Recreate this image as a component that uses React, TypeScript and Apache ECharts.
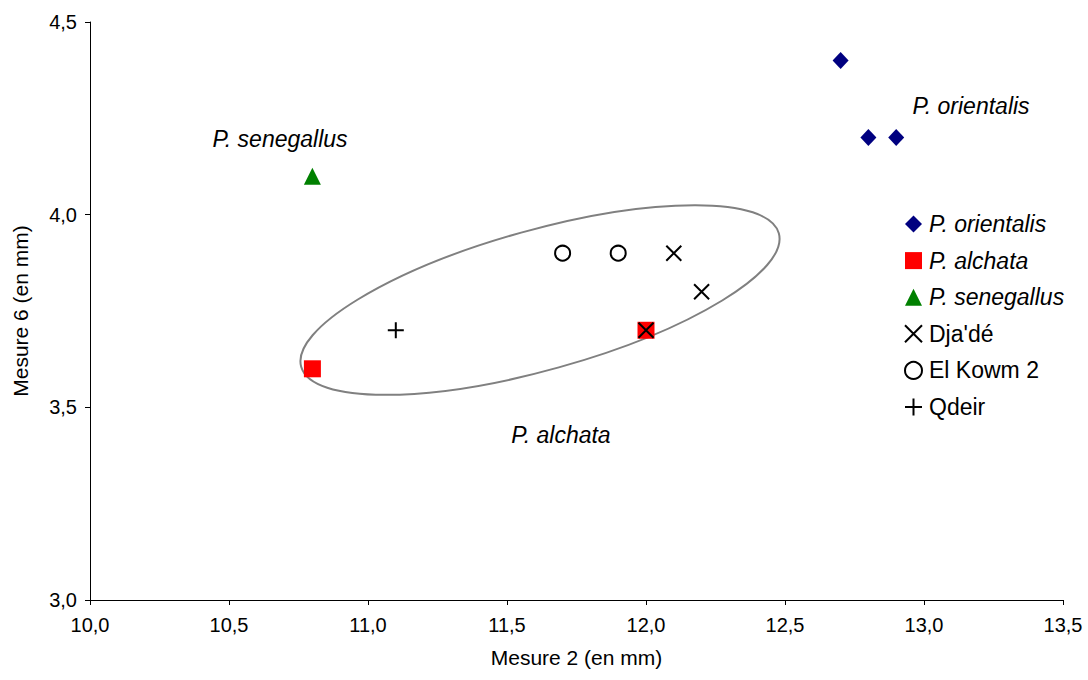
import React, { useEffect, useRef } from "react";
import * as echarts from "echarts";

const orientalis: [number, number][] = [[12.7, 4.4], [12.8, 4.2], [12.9, 4.2]];
const alchata: [number, number][] = [[10.8, 3.6], [12.0, 3.7]];
const senegallus: [number, number][] = [[10.8, 4.1]];
const djade: [number, number][] = [[12.0, 3.7], [12.1, 3.9], [12.2, 3.8]];
const elKowm: [number, number][] = [[11.7, 3.9], [11.9, 3.9]];
const qdeir: [number, number][] = [[11.1, 3.7]];

const seriesNames = ["P. orientalis", "P. alchata", "P. senegallus", "Dja'dé", "El Kowm 2", "Qdeir"];
const annotations = [
  { text: "P. senegallus", x: 280, y: 139 },
  { text: "P. orientalis", x: 971, y: 106 },
  { text: "P. alchata", x: 561, y: 435 },
];

const FONT = "'Liberation Sans', Arial, sans-serif";
const X_PATH = "path://M0,0 L10,10 M10,0 L0,10";
const PLUS_PATH = "path://M5,0 L5,10 M0,5 L10,5";

const fmt = (v: number) => v.toFixed(1).replace(".", ",");

export default function App() {
  const ref = useRef<HTMLDivElement>(null);
  useEffect(() => {
    if (!ref.current) return;
    const chart = echarts.init(ref.current, null, { renderer: "svg" });
    const strokeStyle = { color: "rgba(0,0,0,0)", borderColor: "#000", borderWidth: 2, opacity: 1 };
    chart.setOption({
      animation: false,
      backgroundColor: "#fff",
      grid: { left: 90, right: 25, top: 22, bottom: 80 },
      xAxis: {
        type: "value",
        min: 10,
        max: 13.5,
        interval: 0.5,
        name: "Mesure 2 (en mm)",
        nameLocation: "middle",
        nameGap: 47,
        nameTextStyle: { fontFamily: FONT, fontSize: 21, color: "#000" },
        axisLine: { lineStyle: { color: "#000", width: 1 } },
        axisTick: { show: true, length: 5, lineStyle: { color: "#000" } },
        axisLabel: { formatter: fmt, fontFamily: FONT, fontSize: 20, color: "#000", margin: 15 },
        splitLine: { show: false },
      },
      yAxis: {
        type: "value",
        min: 3,
        max: 4.5,
        interval: 0.5,
        name: "Mesure 6 (en mm)",
        nameLocation: "middle",
        nameGap: 59,
        nameTextStyle: { fontFamily: FONT, fontSize: 21, color: "#000" },
        axisLine: { show: true, lineStyle: { color: "#000", width: 1 } },
        axisTick: { show: true, length: 5, lineStyle: { color: "#000" } },
        axisLabel: { formatter: fmt, fontFamily: FONT, fontSize: 20, color: "#000", margin: 13 },
        splitLine: { show: false },
      },
      legend: {
        orient: "vertical",
        left: 899,
        top: 207,
        itemWidth: 17,
        itemHeight: 17,
        itemGap: 12.6,
        textStyle: { fontFamily: FONT, fontSize: 23, lineHeight: 24, color: "#000", padding: [0, 0, 0, 2] },
        data: seriesNames.map((n, i) => ({
          name: n,
          textStyle: { fontStyle: i < 3 ? "italic" : "normal" },
        })),
      },
      graphic: [
        {
          type: "group",
          x: 540,
          y: 300,
          rotation: (15.6 * Math.PI) / 180,
          children: [
            {
              type: "ellipse",
              shape: { cx: 0, cy: 0, rx: 248, ry: 70 },
              style: { fill: "none", stroke: "#808080", lineWidth: 2 },
              z: -1,
            },
          ],
        },
        ...annotations.map((a) => ({
          type: "text",
          x: a.x,
          y: a.y,
          style: {
            text: a.text,
            fontFamily: FONT,
            fontSize: 23,
            fontStyle: "italic",
            fill: "#000",
            textAlign: "center",
            textVerticalAlign: "middle",
          },
        })),
      ],
      series: [
        { name: seriesNames[0], type: "scatter", data: orientalis, symbol: "diamond", symbolSize: [16, 17], itemStyle: { color: "#000080", opacity: 1 } },
        { name: seriesNames[1], type: "scatter", data: alchata, symbol: "rect", symbolSize: 17, itemStyle: { color: "#ff0000", opacity: 1 } },
        { name: seriesNames[2], type: "scatter", data: senegallus, symbol: "triangle", symbolSize: 17, itemStyle: { color: "#008000", opacity: 1 } },
        { name: seriesNames[3], type: "scatter", data: djade, symbol: X_PATH, symbolSize: 15, itemStyle: strokeStyle },
        { name: seriesNames[4], type: "scatter", data: elKowm, symbol: "circle", symbolSize: 15, itemStyle: strokeStyle },
        { name: seriesNames[5], type: "scatter", data: qdeir, symbol: PLUS_PATH, symbolSize: 16, itemStyle: strokeStyle },
      ],
    });
    return () => chart.dispose();
  }, []);
  return <div ref={ref} style={{ position: "fixed", left: 0, top: 0, width: 1088, height: 680 }} />;
}
